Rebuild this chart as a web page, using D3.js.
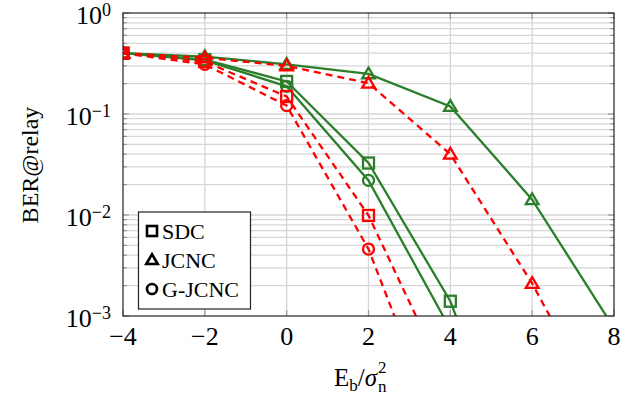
<!DOCTYPE html>
<html>
<head>
<meta charset="utf-8">
<script src="https://cdn.jsdelivr.net/npm/d3@7"></script>
<style>
body { margin: 0; background: #fff; }
text { font-family: "Liberation Serif", "DejaVu Serif", serif; }
</style>
</head>
<body>
<svg id="chart" width="643" height="396"></svg>
<script>
const snr = [-4, -2, 0, 2, 4, 6, 8];
// green solid
const sdcA   = [0.40, 0.345, 0.21, 0.0327, 0.0014, 1e-5, null];
const jcncA  = [0.40, 0.37, 0.31, 0.25, 0.119, 0.0142, 7.6e-4];
const gjcncA = [0.40, 0.34, 0.188, 0.022, 7.4e-4, null, null];
// red dashed
const sdcB   = [0.40, 0.33, 0.149, 0.0099, 1.9e-4, null, null];
const jcncB  = [0.40, 0.36, 0.30, 0.202, 0.040, 0.0021, 6.6e-5];
const gjcncB = [0.40, 0.31, 0.121, 0.0046, 3.7e-5, null, null];

const xTicks = [-4, -2, 0, 2, 4, 6, 8];
const yTicks = [0, -1, -2, -3];

const GREEN = "#2b7f2b", RED = "#ff0000";
const series = [
  { v: sdcA, c: GREEN, dash: null, m: "square" },
  { v: gjcncA, c: GREEN, dash: null, m: "circle" },
  { v: jcncA, c: GREEN, dash: null, m: "triangle" },
  { v: sdcB, c: RED, dash: "7,5", m: "square" },
  { v: gjcncB, c: RED, dash: "7,5", m: "circle" },
  { v: jcncB, c: RED, dash: "7,5", m: "triangle" }
];

const svg = d3.select("#chart");
const L = 123, R = 614, T = 13, B = 316;
const x = d3.scaleLinear().domain([-4, 8]).range([L, R]);
const y = d3.scaleLog().domain([1e-3, 1]).range([B, T]);

svg.append("clipPath").attr("id", "clip")
  .append("rect").attr("x", L).attr("y", T).attr("width", R - L).attr("height", B - T);

// grid
const minor = [];
for (let e = -3; e < 0; e++) for (let k = 2; k <= 9; k++) minor.push(k * Math.pow(10, e));
const grid = svg.append("g").attr("stroke", "#d6d6d6").attr("stroke-width", 1.3);
grid.selectAll("line.h").data(minor.concat([1e-2, 1e-1])).enter().append("line")
  .attr("x1", L).attr("x2", R).attr("y1", d => y(d)).attr("y2", d => y(d));
grid.selectAll("line.v").data(xTicks.slice(1, -1)).enter().append("line")
  .attr("y1", T).attr("y2", B).attr("x1", d => x(d)).attr("x2", d => x(d));

// ticks
const tk = svg.append("g").attr("stroke", "#999").attr("stroke-width", 1.2);
xTicks.forEach(d => {
  tk.append("line").attr("x1", x(d)).attr("x2", x(d)).attr("y1", B).attr("y2", B - 6);
  tk.append("line").attr("x1", x(d)).attr("x2", x(d)).attr("y1", T).attr("y2", T + 6);
});
yTicks.forEach(e => {
  const yy = y(Math.pow(10, e));
  tk.append("line").attr("x1", L).attr("x2", L + 6).attr("y1", yy).attr("y2", yy);
  tk.append("line").attr("x1", R).attr("x2", R - 6).attr("y1", yy).attr("y2", yy);
});
minor.forEach(d => {
  tk.append("line").attr("x1", L).attr("x2", L + 4).attr("y1", y(d)).attr("y2", y(d));
  tk.append("line").attr("x1", R).attr("x2", R - 4).attr("y1", y(d)).attr("y2", y(d));
});

// lines and markers
const plot = svg.append("g").attr("clip-path", "url(#clip)");
const line = d3.line().defined(d => d[1] != null).x(d => x(d[0])).y(d => y(d[1]));
function marker(g, kind, cx, cy, color, s, w) {
  if (kind === "square") {
    g.append("rect").attr("x", cx - s).attr("y", cy - s).attr("width", 2 * s).attr("height", 2 * s)
      .attr("fill", "none").attr("stroke", color).attr("stroke-width", w);
  } else if (kind === "circle") {
    g.append("circle").attr("cx", cx).attr("cy", cy).attr("r", s)
      .attr("fill", "none").attr("stroke", color).attr("stroke-width", w);
  } else {
    const h = s * 1.15;
    g.append("path").attr("d", `M${cx},${cy - h}L${cx + h},${cy + h * 0.7}L${cx - h},${cy + h * 0.7}Z`)
      .attr("fill", "none").attr("stroke", color).attr("stroke-width", w).attr("stroke-linejoin", "miter");
  }
}
series.forEach(s => {
  const pts = snr.map((d, i) => [d, s.v[i]]);
  plot.append("path").attr("d", line(pts)).attr("fill", "none")
    .attr("stroke", s.c).attr("stroke-width", 2.3)
    .attr("stroke-dasharray", s.dash);
  pts.filter(p => p[1] != null && p[1] >= 1e-3).forEach(p => marker(plot, s.m, x(p[0]), y(p[1]), s.c, 5.5, 2.3));
});

// frame
svg.append("rect").attr("x", L).attr("y", T).attr("width", R - L).attr("height", B - T)
  .attr("fill", "none").attr("stroke", "#222").attr("stroke-width", 1.2);

// tick labels
xTicks.forEach(d => {
  svg.append("text").attr("x", x(d)).attr("y", 345).attr("text-anchor", "middle")
    .attr("font-size", 26).text(d < 0 ? "\u2212" + Math.abs(d) : d);
});
yTicks.forEach(e => {
  const t = svg.append("text").attr("x", 111).attr("y", y(Math.pow(10, e)) + 11)
    .attr("text-anchor", "end").attr("font-size", 26);
  t.append("tspan").text("10");
  t.append("tspan").attr("dy", -8).attr("font-size", 18).text(e === 0 ? "0" : "\u2212" + Math.abs(e));
});

// axis titles
svg.append("text").attr("transform", "translate(38,165) rotate(-90)")
  .attr("text-anchor", "middle").attr("font-size", 24).text("BER@relay");
const xt = svg.append("text").attr("x", 334).attr("y", 386).attr("font-size", 25);
xt.append("tspan").text("E");
xt.append("tspan").attr("dy", 5).attr("font-size", 17).text("b");
xt.append("tspan").attr("dy", -5).text("/");
xt.append("tspan").attr("font-style", "italic").text("\u03c3");
const sx = 334 + xt.node().getComputedTextLength() + 1;
svg.append("text").attr("x", sx).attr("y", 392).attr("font-size", 17).text("n");
svg.append("text").attr("x", sx).attr("y", 373).attr("font-size", 17).text("2");

// legend
const lg = svg.append("g");
lg.append("rect").attr("x", 138.5).attr("y", 212).attr("width", 112).attr("height", 97)
  .attr("fill", "#fff").attr("stroke", "#222").attr("stroke-width", 1.2);
const legendItems = [["square", "SDC"], ["triangle", "JCNC"], ["circle", "G-JCNC"]];
legendItems.forEach((d, i) => {
  const cy = 231 + i * 29;
  marker(lg, d[0], 152, cy, "#000", 5, 2.6);
  lg.append("text").attr("x", 162).attr("y", cy + 7.5).attr("font-size", 22).text(d[1]);
});
</script>
</body>
</html>
